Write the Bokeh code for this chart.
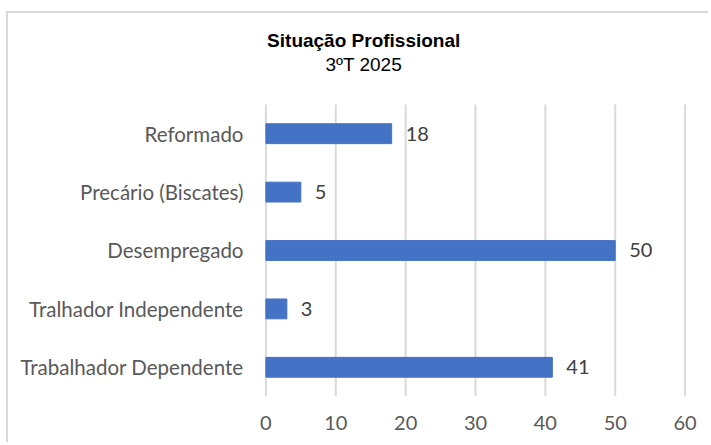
from bokeh.plotting import figure
from bokeh.models import ColumnDataSource, FixedTicker, Label, Range1d
from bokeh.core.properties import value
from bokeh.embed import file_html
from bokeh.resources import INLINE

categories = ["Reformado", "Precário (Biscates)", "Desempregado",
              "Tralhador Independente", "Trabalhador Dependente"]
values = [18, 5, 50, 3, 41]
x_ticks = [0, 10, 20, 30, 40, 50, 60]
title_text = "Situação Profissional"
subtitle_text = "3ºT 2025"

n = len(categories)
ypos = [n - 0.5 - i for i in range(n)]

src = ColumnDataSource(dict(cat=categories, y=ypos, val=values,
                            lbl=[str(v) for v in values]))
grid_src = ColumnDataSource(dict(x=x_ticks, y0=[0] * len(x_ticks),
                                 y1=[n] * len(x_ticks)))

FONT = "Lato"

p = figure(width=702, height=431, output_backend="svg", toolbar_location=None,
           x_range=Range1d(-0.2, 60.2), y_range=Range1d(0, n + 1.558),
           min_border_left=256, min_border_right=24,
           min_border_top=0, min_border_bottom=48)
p.styles = {"margin-top": "11px", "margin-left": "6px",
            "border-left": "2px solid #d9d9d9", "border-top": "2px solid #d9d9d9"}

p.segment(x0="x", y0="y0", x1="x", y1="y1", source=grid_src,
          line_color="#d9d9d9", line_width=2)
p.hbar(y="y", right="val", left=0, height=0.34, source=src,
       fill_color="#4472C4", line_color="#4472C4")
p.text(x="val", y="y", text="lbl", source=src, x_offset=14,
       text_baseline="middle", text_align="left",
       text_font=value(FONT), text_font_size="20px", text_color="#404040")

p.outline_line_color = None
p.background_fill_color = "white"
p.border_fill_color = "white"
p.xgrid.grid_line_color = None
p.ygrid.grid_line_color = None
p.xaxis.ticker = FixedTicker(ticks=x_ticks)
p.yaxis.ticker = FixedTicker(ticks=ypos)
p.yaxis.major_label_overrides = {y: c for y, c in zip(ypos, categories)}

for ax in (p.xaxis, p.yaxis):
    ax.axis_line_color = None
    ax.major_tick_line_color = None
    ax.minor_tick_line_color = None
    ax.major_tick_out = 0
    ax.major_tick_in = 0
    ax.major_label_text_font = FONT
    ax.major_label_text_color = "#595959"
p.xaxis.major_label_text_font_size = "20px"
p.yaxis.major_label_text_font_size = "20.5px"
p.xaxis.major_label_standoff = 19
p.yaxis.major_label_standoff = 21

p.add_layout(Label(x=14.0, y=n + 1.096, text=title_text, text_align="center",
                   text_baseline="middle", text_font="Liberation Sans",
                   text_font_style="bold", text_font_size="19px",
                   text_color="#000000"))
p.add_layout(Label(x=14.0, y=n + 0.693, text=subtitle_text, text_align="center",
                   text_baseline="middle", text_font="Liberation Sans",
                   text_font_size="19px", text_color="#000000"))

open("out.html", "w").write(file_html(p, INLINE))
